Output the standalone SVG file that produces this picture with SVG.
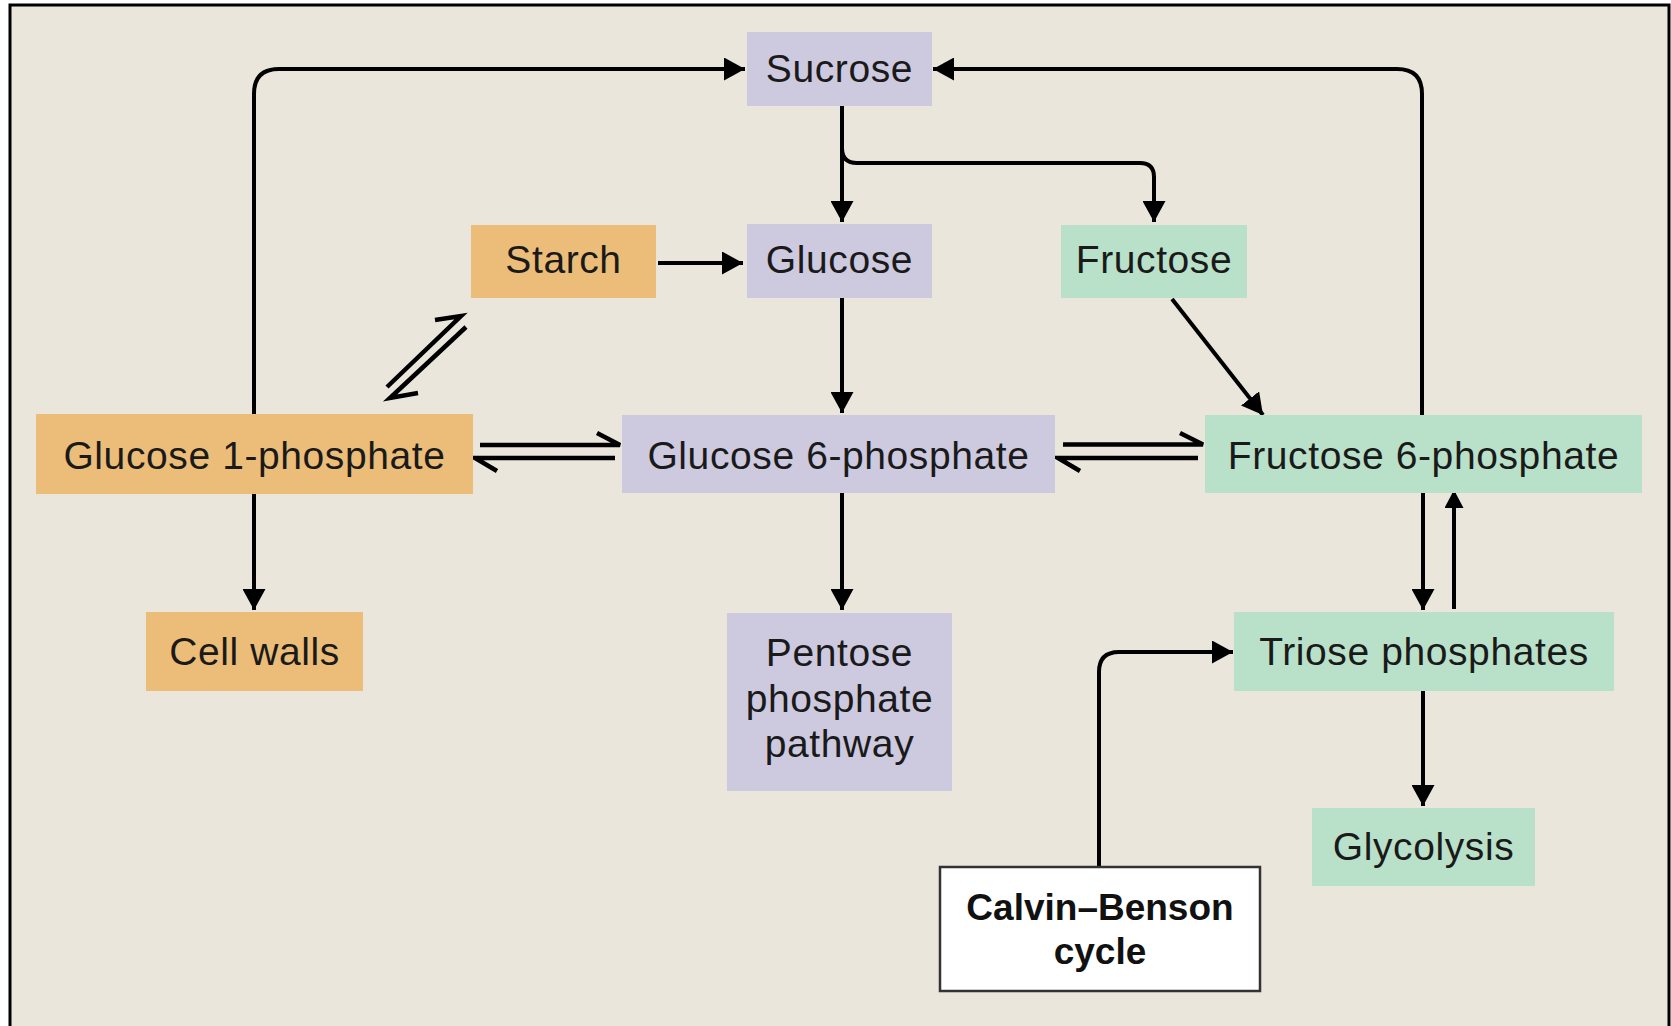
<svg xmlns="http://www.w3.org/2000/svg" width="1671" height="1026" viewBox="0 0 1671 1026">
<defs>
<style>
.lbl{font-family:"Liberation Sans",Arial,sans-serif;font-size:39px;fill:#1a1a1a;text-anchor:middle;letter-spacing:0.6px}
.bold{font-family:"Liberation Sans",Arial,sans-serif;font-size:37px;font-weight:bold;fill:#111;text-anchor:middle}
.pur{fill:#cdc9df}
.org{fill:#ecbd78}
.grn{fill:#b9e0c8}
.ln{fill:none;stroke:#000;stroke-width:4}
.hp{fill:none;stroke:#000;stroke-width:4.5;stroke-linejoin:miter}
</style>
<marker id="ah" markerUnits="userSpaceOnUse" viewBox="0 0 21 23" refX="21" refY="11.5" markerWidth="21" markerHeight="23" orient="auto">
<path d="M0,0 L21,11.5 L0,23 Z" fill="#000"/>
</marker>
<marker id="ah2" markerUnits="userSpaceOnUse" viewBox="0 0 18 19" refX="18" refY="9.5" markerWidth="18" markerHeight="19" orient="auto">
<path d="M0,0 L18,9.5 L0,19 Z" fill="#000"/>
</marker>
</defs>
<rect x="0" y="0" width="1671" height="1026" fill="#ffffff"/>
<rect x="10" y="5" width="1659" height="1030" fill="#ebe6dc" stroke="#000" stroke-width="3"/>

<g id="connectors">
<path class="ln" d="M254,414 V94 Q254,69 279,69 H745" marker-end="url(#ah)"/>
<path class="ln" d="M1422,415 V94 Q1422,69 1397,69 H933" marker-end="url(#ah)"/>
<path class="ln" d="M842,106 V222" marker-end="url(#ah)"/>
<path class="ln" d="M842,106 V148 Q842,163 857,163 H1140 Q1154,163 1154,177 V222" marker-end="url(#ah)"/>
<path class="ln" d="M658,263 H743" marker-end="url(#ah)"/>
<path class="ln" d="M842,298 V413" marker-end="url(#ah)"/>
<path class="ln" d="M1172,299 L1263,415" marker-end="url(#ah)"/>
<path class="ln" d="M254,494 V610" marker-end="url(#ah)"/>
<path class="ln" d="M842,493 V610" marker-end="url(#ah)"/>
<path class="ln" d="M1423,493 V610" marker-end="url(#ah)"/>
<path class="ln" d="M1454,609 V490" stroke-width="6" marker-end="url(#ah2)"/>
<path class="ln" d="M1423,691 V806" marker-end="url(#ah)"/>
<path class="ln" d="M1099,867 V672 Q1099,652 1119,652 H1233" marker-end="url(#ah)"/>
<polyline class="hp" points="480,445 620,445 597,433"/>
<polyline class="hp" points="615,458 475,458 497,471"/>
<polyline class="hp" points="1063,444.5 1203,444.5 1180,433"/>
<polyline class="hp" points="1198,458 1058,458 1080,471"/>
<polyline class="hp" points="387,387 461,316 435,320"/>
<polyline class="hp" points="466,327 390,398 418,393"/>
</g>

<g id="sucrose"><rect class="pur" x="747" y="32" width="185" height="74"/><text class="lbl" x="839.5" y="82">Sucrose</text></g>
<g id="starch"><rect class="org" x="471" y="225" width="185" height="73"/><text class="lbl" x="563.5" y="273">Starch</text></g>
<g id="glucose"><rect class="pur" x="747" y="224" width="185" height="74"/><text class="lbl" x="839.5" y="273">Glucose</text></g>
<g id="fructose"><rect class="grn" x="1061" y="225" width="186" height="73"/><text class="lbl" x="1154" y="273">Fructose</text></g>
<g id="glucose1p"><rect class="org" x="36" y="414" width="437" height="80"/><text class="lbl" x="254.5" y="469">Glucose 1-phosphate</text></g>
<g id="glucose6p"><rect class="pur" x="622" y="415" width="433" height="78"/><text class="lbl" x="838.5" y="469">Glucose 6-phosphate</text></g>
<g id="fructose6p"><rect class="grn" x="1205" y="415" width="437" height="78"/><text class="lbl" x="1423.5" y="469">Fructose 6-phosphate</text></g>
<g id="cellwalls"><rect class="org" x="146" y="612" width="217" height="79"/><text class="lbl" x="254.5" y="665">Cell walls</text></g>
<g id="pentose"><rect class="pur" x="727" y="613" width="225" height="178"/><text class="lbl" x="839.5" y="666">Pentose</text><text class="lbl" x="839.5" y="712">phosphate</text><text class="lbl" x="839.5" y="757">pathway</text></g>
<g id="triose"><rect class="grn" x="1234" y="612" width="380" height="79"/><text class="lbl" x="1424" y="665">Triose phosphates</text></g>
<g id="glycolysis"><rect class="grn" x="1312" y="808" width="223" height="78"/><text class="lbl" x="1423.5" y="860">Glycolysis</text></g>
<g id="calvin"><rect x="940" y="867" width="320" height="124" fill="#ffffff" stroke="#333" stroke-width="2.5"/><text class="bold" x="1100" y="920">Calvin–Benson</text><text class="bold" x="1100" y="964">cycle</text></g>
</svg>
